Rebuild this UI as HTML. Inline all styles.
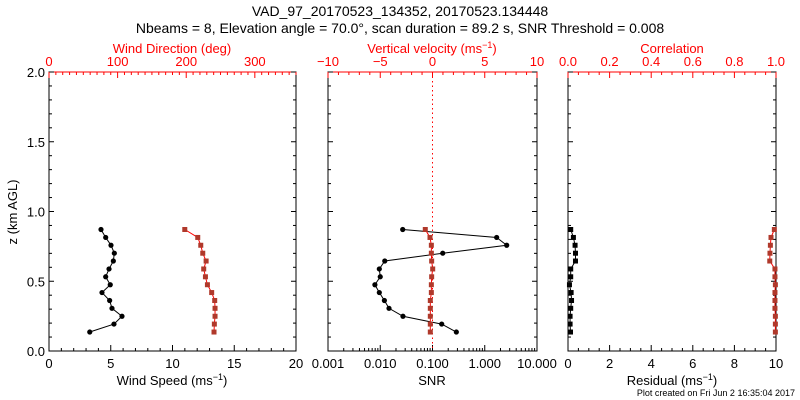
<!DOCTYPE html>
<html><head><meta charset="utf-8">
<style>
html,body{margin:0;padding:0;background:#fff;}
svg{display:block;font-family:"Liberation Sans","DejaVu Sans",sans-serif;}
</style></head>
<body>
<svg id="chart" width="800" height="400" viewBox="0 0 800 400" xmlns="http://www.w3.org/2000/svg">
<text x="400" y="16" text-anchor="middle" font-size="14" fill="#000">VAD_97_20170523_134352, 20170523.134448</text>
<text x="400" y="33" text-anchor="middle" font-size="14" fill="#000">Nbeams = 8, Elevation angle = 70.0°, scan duration = 89.2 s, SNR Threshold = 0.008</text>
<text transform="translate(17,212) rotate(-90)" text-anchor="middle" font-size="13" fill="#000">z (km AGL)</text>
<text x="795" y="396" text-anchor="end" font-size="9" fill="#000">Plot created on Fri Jun  2 16:35:04 2017</text>
<g id="g"></g>
</svg>
<script>
// data (listed bottom to top)
const heights = [0.136,0.193,0.249,0.306,0.362,0.419,0.475,0.532,0.588,0.645,0.701,0.758,0.814,0.871];
const windSpeed = [3.30,5.26,5.91,5.10,4.91,4.29,4.96,4.59,4.86,5.21,5.29,5.02,4.59,4.21];
const windDir = [240.5,241.0,242.0,242.0,241.5,237.1,230.9,228.0,225.5,229.0,224.1,221.2,216.8,197.9];
const snr = [0.286,0.150,0.0272,0.0147,0.012,0.0096,0.0079,0.0100,0.0096,0.0122,0.157,2.63,1.69,0.0269];
const wVel = [-0.21,-0.21,-0.21,-0.21,-0.21,-0.11,-0.11,-0.08,0.02,-0.08,-0.11,-0.11,-0.24,-0.69];
const residual = [0.12,0.10,0.10,0.13,0.17,0.15,0.07,0.13,0.13,0.36,0.36,0.34,0.26,0.13];
const correlation = [0.997,0.997,0.997,0.995,0.995,0.995,0.997,0.995,0.995,0.970,0.971,0.973,0.976,0.992];
const zTicks = ["0.0","0.5","1.0","1.5","2.0"];

const NS="http://www.w3.org/2000/svg";
const g=document.getElementById('g');
const Y0=351,Y1=72;
const yS=z=>Y0+(z/2)*(Y1-Y0);
function el(t,a,p){const e=document.createElementNS(NS,t);for(const k in a)e.setAttribute(k,a[k]);(p||g).appendChild(e);return e;}
function txt(x,y,s,a,col,fs){const e=el('text',{x:x,y:y,'text-anchor':a||'middle','font-size':fs||13,fill:col||'#000'});e.textContent=s;return e;}

const panels=[
 {name:'wind',x0:49,x1:296,showY:true},
 {name:'snr',x0:328,x1:537,showY:false},
 {name:'residual',x0:568,x1:776,showY:false}];

function linS(p,a,b){return v=>p.x0+(v-a)/(b-a)*(p.x1-p.x0);}
function logS(p,a,b){return v=>p.x0+(Math.log10(v)-a)/(b-a)*(p.x1-p.x0);}

panels.forEach(p=>{
 const fr=el('rect',{x:p.x0,y:Y1,width:p.x1-p.x0,height:Y0-Y1,fill:'none',stroke:'#000','stroke-width':1});
 
 
 el('line',{x1:p.x0,y1:Y1,x2:p.x1,y2:Y1,stroke:'#f00','stroke-width':1});
 for(let i=0;i<=20;i++){const y=yS(i*0.1),L=(i%5==0)?5:3;
  el('line',{x1:p.x0,y1:y,x2:p.x0+L,y2:y,stroke:'#000'});
  el('line',{x1:p.x1,y1:y,x2:p.x1-L,y2:y,stroke:'#000'});}
 if(p.showY) zTicks.forEach((t,i)=>{const e=txt(p.x0-4,yS(i*0.5)+5,t,'end');});
});

function bottomLin(p,a,b,maj,min,labels,fmt){
 const s=linS(p,a,b);
 for(let v=a;v<=b+1e-9;v+=min){const isM=Math.abs(v/maj-Math.round(v/maj))<1e-6;el('line',{x1:s(v),y1:Y0,x2:s(v),y2:Y0-(isM?6:3),stroke:'#000'});}
 labels.forEach(v=>{const e=txt(s(v),Y0+17,fmt(v));});
}
function topLin(p,a,b,maj,min,labels,fmt){
 const s=linS(p,a,b);
 for(let v=a;v<=b+1e-9;v+=min){const isM=Math.abs(v/maj-Math.round(v/maj))<1e-6;el('line',{x1:s(v),y1:Y1,x2:s(v),y2:Y1+(isM?6:3),stroke:'#f00'});}
 labels.forEach(v=>{const e=txt(s(v),Y1-6,fmt(v),'middle','#f00');});
}
const P=panels;
const spdTicks=[0,5,10,15,20], dirTicks=[0,100,200,300];
bottomLin(P[0],0,20,5,1,spdTicks,v=>String(v));
topLin(P[0],0,360,100,10,dirTicks,v=>String(v));
const snrTicks=[0.001,0.01,0.1,1,10], snrLab=["0.001","0.010","0.100","1.000","10.000"];
const sL=logS(P[1],-3,1);
for(let d=-3;d<1;d++)for(let m=1;m<10;m++){const v=m*Math.pow(10,d);el('line',{x1:sL(v),y1:Y0,x2:sL(v),y2:Y0-(m==1?6:3),stroke:'#000'});}
el('line',{x1:sL(10),y1:Y0,x2:sL(10),y2:Y0-6,stroke:'#000'});
snrTicks.forEach((v,i)=>{const e=txt(sL(v),Y0+17,snrLab[i]);});
const wTicks=[-10,-5,0,5,10];
topLin(P[1],-10,10,5,1,wTicks,v=>v<0?'\u2212'+(-v):String(v));
const resTicks=[0,2,4,6,8,10], corTicks=[0,0.2,0.4,0.6,0.8,1.0];
bottomLin(P[2],0,10,2,0.5,resTicks,v=>String(v));
topLin(P[2],0,1,0.2,0.05,corTicks,v=>v.toFixed(1));

// axis titles
function title(x,y,main,col,name){const e=el('text',{x:x,y:y,'text-anchor':'middle','font-size':13,fill:col});
 
 if(main.indexOf('ms')>=0){const base=main.replace(' (ms-1)','');e.appendChild(document.createTextNode(base+' (ms'));const t=document.createElementNS(NS,'tspan');t.setAttribute('dy','-5');t.setAttribute('font-size','9');t.textContent='\u22121';e.appendChild(t);const t2=document.createElementNS(NS,'tspan');t2.setAttribute('dy','5');t2.textContent=')';e.appendChild(t2);}else e.textContent=main;}
title(172,385,'Wind Speed (ms-1)','#000','x-axis-title-wind-speed');
title(172,53,'Wind Direction (deg)','#f00','top-axis-title-wind-direction');
title(432,385,'SNR','#000','x-axis-title-snr');
title(432,53,'Vertical velocity (ms-1)','#f00','top-axis-title-vertical-velocity');
title(672,385,'Residual (ms-1)','#000','x-axis-title-residual');
title(672,53,'Correlation','#f00','top-axis-title-correlation');

// zero dotted line in panel 2
const wS=linS(P[1],-10,10);
el('line',{x1:wS(0),y1:Y1,x2:wS(0),y2:Y0,stroke:'#f00','stroke-dasharray':'1.5,3'});

function series(vals,sx,name,lineCol,markCol,sq){
 const pts=vals.map((v,i)=>[sx(v),yS(heights[i])]);
 const pl=el('polyline',{points:pts.map(p=>p.join(',')).join(' '),fill:'none',stroke:lineCol,'stroke-width':1});
 
 
 pts.forEach(p=>{
  const m=sq?el('rect',{x:p[0]-2.5,y:p[1]-2.5,width:5,height:5,fill:markCol}):el('circle',{cx:p[0],cy:p[1],r:2.6,fill:markCol});
  
  
 });
}
series(windSpeed,linS(P[0],0,20),'wind-speed','#000','#000',false);
series(windDir,linS(P[0],0,360),'wind-direction','#f00','#b0392b',true);
series(snr,sL,'snr','#000','#000',false);
series(wVel,wS,'vertical-velocity','#f00','#b0392b',true);
series(residual,linS(P[2],0,10),'residual','#000','#000',true);
series(correlation,linS(P[2],0,1),'correlation','#f00','#b0392b',true);
</script>
</body></html>
